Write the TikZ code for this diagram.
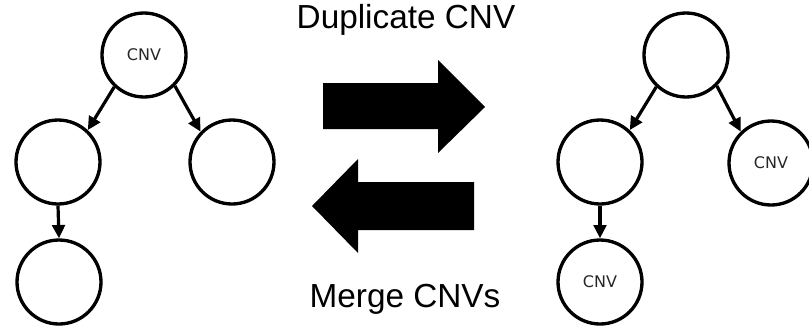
\documentclass[tikz,border=0pt]{standalone}
\usepackage{fontspec}
\setmainfont{Liberation Sans}
\newfontfamily\labelfont{DejaVu Sans}
\usetikzlibrary{arrows.meta}

\tikzset{
  treenode/.style={circle, draw=black, line width=2.5pt, minimum size=63pt,
    inner sep=0pt, font=\labelfont\fontsize{12pt}{14pt}\selectfont, text=black!85},
  edge/.style={line width=2.4pt, -{Triangle[length=10pt, width=9.5pt]}},
  blockarrow/.style={fill=black},
  caption/.style={anchor=base, font=\fontsize{25pt}{30pt}\selectfont}
}

\begin{document}
\begin{tikzpicture}[x=0.75pt, y=-0.75pt]
  \useasboundingbox (0,0) rectangle (809,333);
  \clip (0,0) rectangle (809,333);

  % tree before duplication
  \node[treenode] (a) at (144,55)  {CNV};
  \node[treenode] (b) at (58,162)  {};
  \node[treenode] (c) at (232,162) {};
  \node[treenode] (d) at (59,282)  {};
  \draw[edge] (a.227) -- (b.47);
  \draw[edge] (a.-45) -- (c.136);
  \draw[edge] (b.south) -- (d.north);

  % tree after duplication
  \node[treenode] (e) at (686,55)  {};
  \node[treenode] (f) at (600,162) {};
  \node[treenode] (g) at (771,163) {CNV};
  \node[treenode] (h) at (600,282) {CNV};
  \draw[edge] (e.227) -- (f.47);
  \draw[edge] (e.-45) -- (g.134);
  \draw[edge] (f.south) -- (h.north);

  % block arrows between the trees
  \fill[blockarrow] (323,83) -- (438,83) -- (438,60) -- (485,107)
    -- (438,153) -- (438,129) -- (323,129) -- cycle;
  \fill[blockarrow] (474,182) -- (358,182) -- (358,159) -- (312,206)
    -- (358,253) -- (358,230) -- (474,230) -- cycle;

  \node[caption] (dup) at (406,28) {Duplicate CNV};
  \node[caption] (mrg) at (405,307) {Merge CNVs};
\end{tikzpicture}
\end{document}
